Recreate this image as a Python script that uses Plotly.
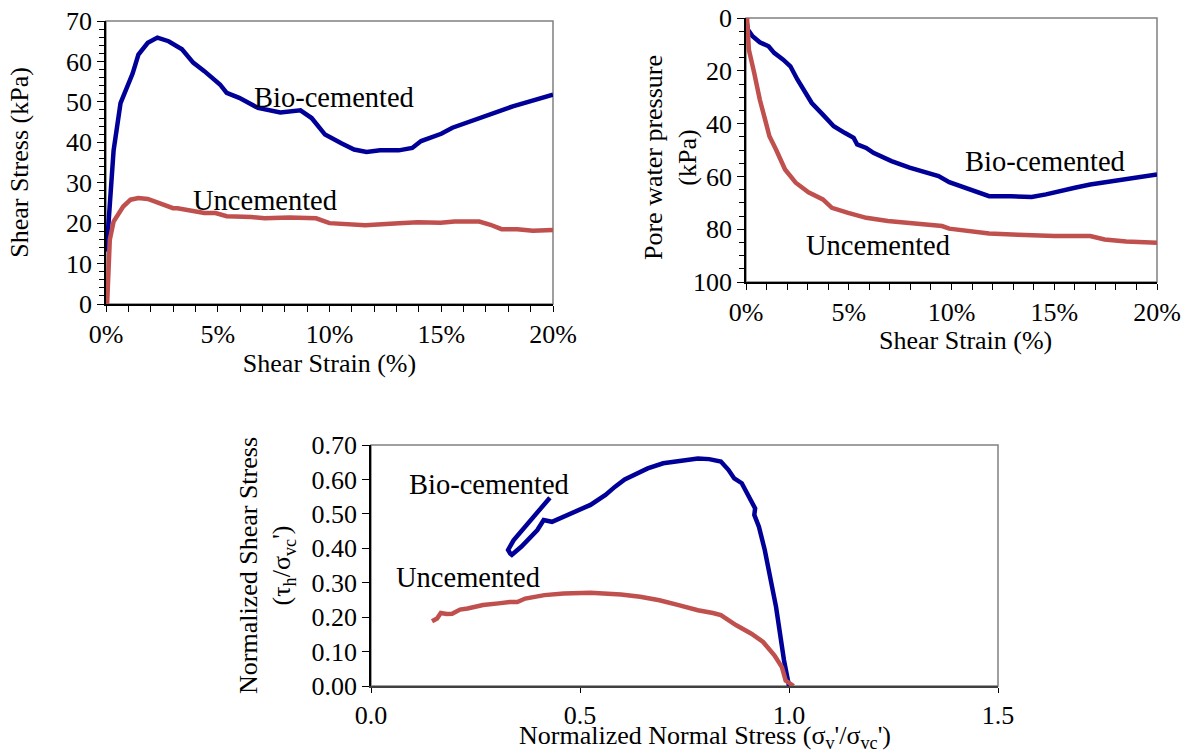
import plotly.graph_objects as go

# ---------- Panel 1: shear stress vs shear strain ----------
p1_bio_strain = [0.0, 0.08, 0.34, 0.65, 1.19, 1.45, 1.87, 2.3, 2.8, 3.4, 3.9, 4.4, 5.1, 5.4, 5.96, 6.8, 7.8,
                 8.7, 9.2, 9.8, 10.55, 11.1, 11.66, 12.26, 13.1, 13.7, 14.1, 15.0, 15.5, 16.5, 18.2, 20.0]
p1_bio_stress = [13.0, 17.5, 38.0, 49.7, 57.0, 61.7, 64.6, 65.9, 65.0, 63.0, 59.7, 57.6, 54.3, 52.2, 51.0, 48.5, 47.4,
                 47.9, 46.0, 41.9, 39.7, 38.2, 37.6, 38.0, 38.0, 38.6, 40.3, 42.1, 43.6, 45.6, 48.9, 51.8]
p1_unc_strain = [0.05, 0.17, 0.34, 0.6, 0.77, 1.1, 1.45, 1.87, 2.4, 2.7, 3.0, 3.2, 3.7, 4.4, 4.9, 5.4, 6.5, 7.1,
                 8.2, 9.4, 10.0, 11.1, 11.6, 13.1, 13.95, 14.97, 15.6, 16.7, 17.2, 17.7, 18.4, 19.1, 20.0]
p1_unc_stress = [0.0, 15.9, 20.4, 22.5, 24.1, 25.8, 26.2, 26.0, 25.0, 24.5, 23.7, 23.7, 23.1, 22.5, 22.5, 21.7, 21.5,
                 21.2, 21.4, 21.2, 20.0, 19.8, 19.5, 20.0, 20.2, 20.1, 20.4, 20.4, 19.6, 18.5, 18.5, 18.1, 18.3]

# ---------- Panel 2: pore water pressure vs shear strain ----------
p2_bio_strain = [0.0, 0.09, 0.32, 0.67, 1.1, 1.37, 1.81, 2.16, 2.5, 2.95, 3.2, 3.74, 4.27, 4.8, 5.24, 5.41, 5.85,
                 6.2, 7.08, 7.96, 8.84, 9.37, 9.89, 10.77, 11.83, 12.88, 13.9, 14.6, 15.2, 16.0, 16.75, 18.5, 20.0]
p2_bio_pwp = [0.0, 4.4, 6.9, 9.2, 10.7, 13.2, 15.8, 18.3, 23.3, 29.0, 32.2, 36.6, 41.0, 43.5, 45.4, 47.9, 49.2,
              51.1, 54.2, 56.7, 58.6, 59.9, 62.2, 64.7, 67.5, 67.5, 67.8, 66.8, 65.6, 64.3, 63.1, 60.9, 59.3]
p2_unc_strain = [0.05, 0.14, 0.4, 0.67, 0.93, 1.14, 1.46, 1.9, 2.42, 3.04, 3.74, 4.18, 4.97, 5.85, 6.9, 7.96,
                 8.84, 9.54, 9.89, 10.77, 11.83, 13.23, 15.0, 16.75, 17.45, 18.5, 20.0]
p2_unc_pwp = [0.0, 12.0, 20.8, 30.9, 38.5, 44.8, 49.8, 57.4, 62.4, 66.0, 68.7, 71.9, 73.8, 75.7, 76.9, 77.8,
              78.2, 78.8, 79.8, 80.5, 81.6, 82.1, 82.6, 82.6, 83.9, 84.7, 85.1]

# ---------- Panel 3: normalized stress path ----------
p3_bio_normal = [1.0, 0.988, 0.969, 0.956, 0.942, 0.928, 0.917, 0.919, 0.906, 0.887, 0.869, 0.855, 0.837, 0.809,
                 0.782, 0.736, 0.699, 0.662, 0.635, 0.607, 0.584, 0.561, 0.525, 0.488, 0.456, 0.433, 0.413,
                 0.398, 0.360, 0.337, 0.333, 0.328, 0.341, 0.369, 0.401, 0.428]
p3_bio_shear = [0.0, 0.075, 0.23, 0.317, 0.395, 0.463, 0.497, 0.516, 0.545, 0.589, 0.603, 0.628, 0.652, 0.659,
                0.661, 0.655, 0.647, 0.632, 0.618, 0.600, 0.579, 0.555, 0.526, 0.506, 0.487, 0.477, 0.482,
                0.453, 0.405, 0.381, 0.385, 0.395, 0.423, 0.462, 0.506, 0.547]
p3_unc_normal = [1.011, 0.992, 0.983, 0.965, 0.938, 0.910, 0.873, 0.837, 0.818, 0.782, 0.736, 0.690, 0.644, 0.598,
                 0.525, 0.461, 0.415, 0.369, 0.350, 0.332, 0.305, 0.268, 0.231, 0.213, 0.194, 0.181, 0.167,
                 0.158, 0.146]
p3_unc_shear = [0.0, 0.016, 0.055, 0.089, 0.128, 0.152, 0.177, 0.206, 0.212, 0.220, 0.235, 0.249, 0.259, 0.266,
                0.271, 0.269, 0.264, 0.254, 0.244, 0.244, 0.240, 0.235, 0.225, 0.222, 0.210, 0.209, 0.212,
                0.196, 0.188]

BLUE = "#000099"
RED = "#C0504D"
FONT = "Times New Roman, Liberation Serif, serif"
FS = 26
W, H = 1188, 755

def xd(a, b):
    return [a / W, b / W]

def yd(top, bottom):
    return [1 - bottom / H, 1 - top / H]

fig = go.Figure()
lw = 4.5
fig.add_trace(go.Scatter(x=p1_bio_strain, y=p1_bio_stress, mode="lines", line=dict(color=BLUE, width=lw), xaxis="x", yaxis="y"))
fig.add_trace(go.Scatter(x=p1_unc_strain, y=p1_unc_stress, mode="lines", line=dict(color=RED, width=lw), xaxis="x", yaxis="y"))
fig.add_trace(go.Scatter(x=p2_bio_strain, y=p2_bio_pwp, mode="lines", line=dict(color=BLUE, width=lw), xaxis="x2", yaxis="y2"))
fig.add_trace(go.Scatter(x=p2_unc_strain, y=p2_unc_pwp, mode="lines", line=dict(color=RED, width=lw), xaxis="x2", yaxis="y2"))
fig.add_trace(go.Scatter(x=p3_bio_normal, y=p3_bio_shear, mode="lines", line=dict(color=BLUE, width=lw), xaxis="x3", yaxis="y3"))
fig.add_trace(go.Scatter(x=p3_unc_normal, y=p3_unc_shear, mode="lines", line=dict(color=RED, width=lw), xaxis="x3", yaxis="y3"))

tickfont = dict(family=FONT, size=FS, color="black")
titlefont = dict(family=FONT, size=FS, color="black")

common_x = dict(showline=True, linecolor="black", linewidth=1.5, ticks="outside", tickcolor="black",
                ticklen=6, tickwidth=1, showgrid=False, zeroline=False, tickfont=tickfont, automargin=False)
common_y = dict(showline=True, linecolor="black", linewidth=1.5, ticks="outside", tickcolor="black",
                ticklen=7, tickwidth=1, showgrid=False, zeroline=False, tickfont=tickfont, automargin=False)

fig.update_layout(
    width=W, height=H, margin=dict(l=0, r=0, t=0, b=0, pad=0),
    paper_bgcolor="white", plot_bgcolor="white", showlegend=False,
    font=dict(family=FONT, size=FS, color="black"),
    xaxis=dict(common_x, domain=xd(106, 553), range=[0, 20], dtick=5, ticksuffix="%",
               minor=dict(dtick=1, ticks="outside", ticklen=6, tickcolor="black"),
               anchor="y", title=dict(text="Shear Strain (%)", font=titlefont, standoff=4)),
    yaxis=dict(common_y, domain=yd(21, 304), range=[0, 70], dtick=10,
               minor=dict(dtick=2, ticks="outside", ticklen=5, tickcolor="black"),
               anchor="x", title=dict(text="Shear Stress (kPa)", font=titlefont, standoff=30)),
    xaxis2=dict(common_x, domain=xd(746, 1157), range=[0, 20], dtick=5, ticksuffix="%",
                minor=dict(dtick=1, ticks="outside", ticklen=6, tickcolor="black"),
                anchor="y2"),
    yaxis2=dict(common_y, domain=yd(18, 282), range=[100, 0], dtick=20,
                minor=dict(dtick=5, ticks="outside", ticklen=5, tickcolor="black"),
                anchor="x2"),
    xaxis3=dict(common_x, domain=xd(371, 998), range=[0, 1.5], dtick=0.5, tickformat=".1f",
                linecolor="#404040", anchor="y3", ticklen=5),
    yaxis3=dict(common_y, domain=yd(445, 686), range=[0, 0.70], dtick=0.1, tickformat=".2f",
                anchor="x3", title=dict(text="Normalized Shear Stress<br>(τ<sub>h</sub>/σ<sub>vc</sub>')", font=titlefont, standoff=13)),
)

# Panel 2 axis titles placed to sit tight against the ticks, as in the reference
fig.add_annotation(text="Shear Strain (%)", xref="paper", yref="paper", x=965 / W, y=1 - 340 / H,
                   xanchor="center", yanchor="middle", showarrow=False, font=titlefont)
fig.add_annotation(text="Pore water pressure<br>(kPa)", xref="paper", yref="paper", x=671 / W, y=1 - 158 / H,
                   xanchor="center", yanchor="middle", textangle=-90, showarrow=False, font=titlefont)
# Panel 3 x-axis title, sitting at the very bottom of the figure
fig.add_annotation(text="Normalized Normal Stress (σ<sub>v</sub>'/σ<sub>vc</sub>')", xref="paper", yref="paper",
                   x=705 / W, y=0, xanchor="center", yanchor="bottom", showarrow=False, font=titlefont)

# gray frame on top/right of each panel
for xr, yr in [("x", "y"), ("x2", "y2"), ("x3", "y3")]:
    fig.add_shape(type="rect", xref=f"{xr} domain", yref=f"{yr} domain", x0=0, x1=1, y0=0, y1=1,
                  line=dict(color="#808080", width=1.5), layer="below")

ann_font = dict(family=FONT, size=28.5, color="black")
labels = [
    ("x", "y", 10.2, 51.2, "Bio-cemented"),
    ("x", "y", 7.1, 25.5, "Uncemented"),
    ("x2", "y2", 14.55, 54.5, "Bio-cemented"),
    ("x2", "y2", 6.4, 86.0, "Uncemented"),
    ("x3", "y3", 0.282, 0.584, "Bio-cemented"),
    ("x3", "y3", 0.232, 0.314, "Uncemented"),
]
for xr, yr, x, y, t in labels:
    fig.add_annotation(x=x, y=y, xref=xr, yref=yr, text=t, showarrow=False, font=ann_font)

fig.write_html("out.html", config={"displayModeBar": False},
               post_script="document.body.style.margin='0';document.body.style.overflow='hidden';")
